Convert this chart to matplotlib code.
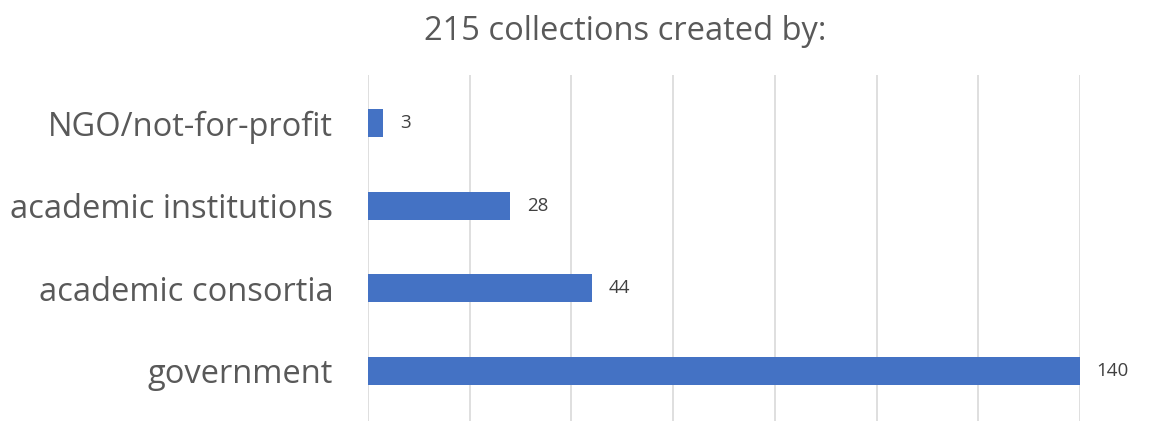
import matplotlib.pyplot as plt

categories = ["government", "academic consortia", "academic institutions", "NGO/not-for-profit"]
counts = [140, 44, 28, 3]
title = "215 collections created by:"

plt.rcParams["font.family"] = ["Open Sans", "DejaVu Sans"]

fig = plt.figure(figsize=(11.74, 4.21), dpi=100)
ax = fig.add_axes([368 / 1174, 0, 712 / 1174, 346 / 421])

pos = list(range(len(categories)))
ax.barh(pos, counts, height=0.34, color="#4472C4", zorder=3)

for p, v in zip(pos, counts):
    ax.annotate(str(v), (v, p), xytext=(12, 0), textcoords="offset points",
                va="center", ha="left", fontsize=13.5, color="#404040")

ax.set_xlim(0, 140)
ax.set_ylim(-0.605, 3.58)
ax.set_xticks(range(0, 141, 20))
ax.set_xticklabels([])
ax.set_yticks(pos)
ax.set_yticklabels(categories, fontsize=23.5, color="#595959")
ax.tick_params(axis="both", length=0)
ax.tick_params(axis="y", pad=25)
ax.grid(axis="x", color="#d9d9d9", linewidth=1.2, zorder=0)
for s in ax.spines.values():
    s.set_visible(False)

fig.text(625 / 1174, 1 - 31 / 421, title, ha="center", va="center",
         fontsize=23.5, color="#595959")

fig.savefig("out.png", dpi=100)
plt.close(fig)
